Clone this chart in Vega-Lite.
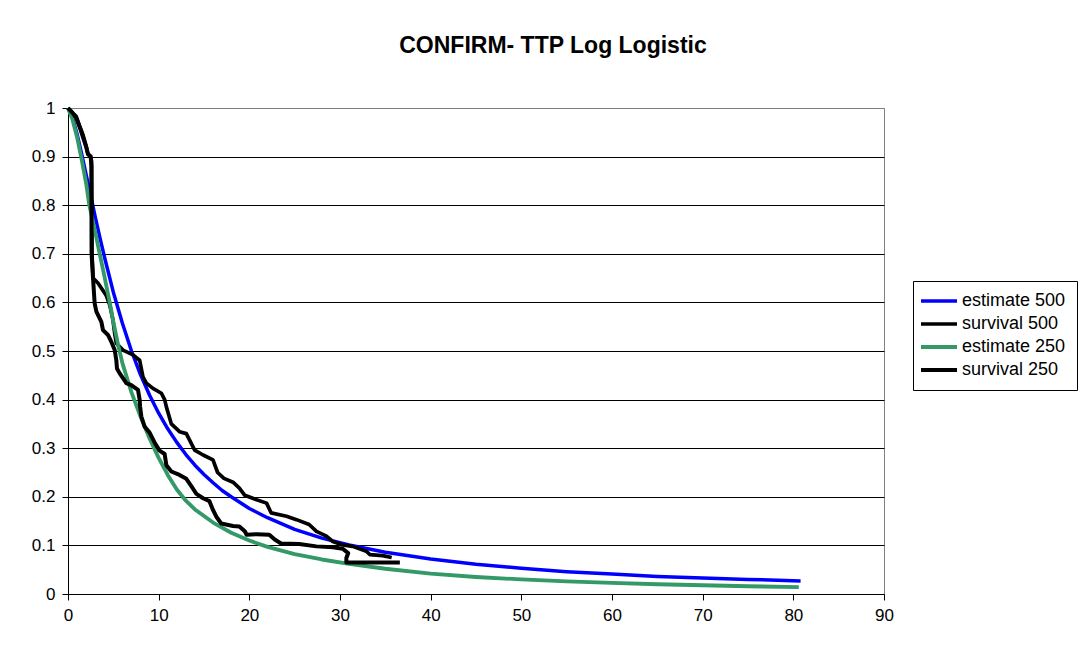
{
 "$schema": "https://vega.github.io/schema/vega-lite/v6.json",
 "autosize": {"type": "none"},
 "width": 816,
 "height": 486,
 "padding": {"left": 68, "top": 108, "right": 208, "bottom": 59},
 "background": "white",
 "title": {"text": "CONFIRM- TTP Log Logistic", "font": "Liberation Sans", "fontSize": 23, "fontWeight": "bold", "color": "black", "anchor": "middle", "dx": 77, "offset": 41},
 "config": {"view": {"stroke": "#808080", "strokeWidth": 1}, "font": "Liberation Sans"},
 "data": {"values": [
  {"s":"estimate 500","t":0,"v":1},{"s":"estimate 500","t":0.5,"v":0.98},{"s":"estimate 500","t":1,"v":0.946},{"s":"estimate 500","t":1.5,"v":0.906},{"s":"estimate 500","t":2,"v":0.863},{"s":"estimate 500","t":2.5,"v":0.82},{"s":"estimate 500","t":3,"v":0.776},{"s":"estimate 500","t":3.5,"v":0.735},{"s":"estimate 500","t":4,"v":0.695},{"s":"estimate 500","t":5,"v":0.621},{"s":"estimate 500","t":6,"v":0.557},{"s":"estimate 500","t":7,"v":0.5},{"s":"estimate 500","t":8,"v":0.451},{"s":"estimate 500","t":9,"v":0.409},{"s":"estimate 500","t":10,"v":0.372},{"s":"estimate 500","t":11,"v":0.34},{"s":"estimate 500","t":12,"v":0.312},{"s":"estimate 500","t":13,"v":0.287},{"s":"estimate 500","t":14,"v":0.265},{"s":"estimate 500","t":15,"v":0.246},{"s":"estimate 500","t":16,"v":0.229},{"s":"estimate 500","t":17,"v":0.213},{"s":"estimate 500","t":18,"v":0.2},{"s":"estimate 500","t":20,"v":0.176},{"s":"estimate 500","t":22,"v":0.157},{"s":"estimate 500","t":25,"v":0.133},{"s":"estimate 500","t":28,"v":0.115},{"s":"estimate 500","t":31,"v":0.101},{"s":"estimate 500","t":35,"v":0.086},{"s":"estimate 500","t":40,"v":0.072},{"s":"estimate 500","t":45,"v":0.061},{"s":"estimate 500","t":50,"v":0.053},{"s":"estimate 500","t":55,"v":0.046},{"s":"estimate 500","t":60,"v":0.041},{"s":"estimate 500","t":65,"v":0.036},{"s":"estimate 500","t":70,"v":0.033},{"s":"estimate 500","t":75,"v":0.03},{"s":"estimate 500","t":80.8,"v":0.027},
  {"s":"survival 500","t":0,"v":1},{"s":"survival 500","t":0.5,"v":0.99},{"s":"survival 500","t":0.9,"v":0.983},{"s":"survival 500","t":1.3,"v":0.962},{"s":"survival 500","t":1.65,"v":0.945},{"s":"survival 500","t":2,"v":0.922},{"s":"survival 500","t":2.2,"v":0.906},{"s":"survival 500","t":2.5,"v":0.9},{"s":"survival 500","t":2.6,"v":0.89},{"s":"survival 500","t":2.65,"v":0.7},{"s":"survival 500","t":2.76,"v":0.65},{"s":"survival 500","t":3.3,"v":0.64},{"s":"survival 500","t":4.2,"v":0.615},{"s":"survival 500","t":4.6,"v":0.595},{"s":"survival 500","t":4.96,"v":0.564},{"s":"survival 500","t":5.15,"v":0.536},{"s":"survival 500","t":5.33,"v":0.516},{"s":"survival 500","t":6.06,"v":0.502},{"s":"survival 500","t":7.17,"v":0.492},{"s":"survival 500","t":7.9,"v":0.481},{"s":"survival 500","t":8.27,"v":0.447},{"s":"survival 500","t":8.64,"v":0.434},{"s":"survival 500","t":9.37,"v":0.423},{"s":"survival 500","t":10.3,"v":0.413},{"s":"survival 500","t":10.66,"v":0.4},{"s":"survival 500","t":10.85,"v":0.385},{"s":"survival 500","t":11.4,"v":0.35},{"s":"survival 500","t":12.3,"v":0.334},{"s":"survival 500","t":13.05,"v":0.33},{"s":"survival 500","t":13.4,"v":0.317},{"s":"survival 500","t":13.97,"v":0.296},{"s":"survival 500","t":14.9,"v":0.286},{"s":"survival 500","t":15.99,"v":0.276},{"s":"survival 500","t":16.5,"v":0.25},{"s":"survival 500","t":17.2,"v":0.238},{"s":"survival 500","t":18.2,"v":0.23},{"s":"survival 500","t":18.9,"v":0.218},{"s":"survival 500","t":19.5,"v":0.203},{"s":"survival 500","t":20.8,"v":0.194},{"s":"survival 500","t":21.9,"v":0.187},{"s":"survival 500","t":22.4,"v":0.167},{"s":"survival 500","t":24.1,"v":0.16},{"s":"survival 500","t":25.2,"v":0.153},{"s":"survival 500","t":26.6,"v":0.143},{"s":"survival 500","t":27.4,"v":0.129},{"s":"survival 500","t":28.5,"v":0.119},{"s":"survival 500","t":29.2,"v":0.108},{"s":"survival 500","t":30.3,"v":0.101},{"s":"survival 500","t":31.4,"v":0.098},{"s":"survival 500","t":32.9,"v":0.088},{"s":"survival 500","t":33.3,"v":0.081},{"s":"survival 500","t":34.7,"v":0.079},{"s":"survival 500","t":35.7,"v":0.075},
  {"s":"estimate 250","t":0,"v":1},{"s":"estimate 250","t":0.5,"v":0.976},{"s":"estimate 250","t":1,"v":0.94},{"s":"estimate 250","t":1.5,"v":0.895},{"s":"estimate 250","t":2,"v":0.845},{"s":"estimate 250","t":2.35,"v":0.8},{"s":"estimate 250","t":3,"v":0.745},{"s":"estimate 250","t":3.5,"v":0.7},{"s":"estimate 250","t":4,"v":0.655},{"s":"estimate 250","t":4.6,"v":0.6},{"s":"estimate 250","t":5,"v":0.56},{"s":"estimate 250","t":5.5,"v":0.515},{"s":"estimate 250","t":6,"v":0.475},{"s":"estimate 250","t":7,"v":0.415},{"s":"estimate 250","t":8,"v":0.365},{"s":"estimate 250","t":9,"v":0.32},{"s":"estimate 250","t":10,"v":0.28},{"s":"estimate 250","t":11,"v":0.245},{"s":"estimate 250","t":12,"v":0.215},{"s":"estimate 250","t":13,"v":0.192},{"s":"estimate 250","t":14,"v":0.174},{"s":"estimate 250","t":16,"v":0.147},{"s":"estimate 250","t":18,"v":0.126},{"s":"estimate 250","t":20,"v":0.11},{"s":"estimate 250","t":22,"v":0.097},{"s":"estimate 250","t":25,"v":0.082},{"s":"estimate 250","t":28,"v":0.071},{"s":"estimate 250","t":31,"v":0.062},{"s":"estimate 250","t":35,"v":0.052},{"s":"estimate 250","t":40,"v":0.042},{"s":"estimate 250","t":45,"v":0.035},{"s":"estimate 250","t":50,"v":0.03},{"s":"estimate 250","t":55,"v":0.026},{"s":"estimate 250","t":60,"v":0.023},{"s":"estimate 250","t":65,"v":0.02},{"s":"estimate 250","t":70,"v":0.018},{"s":"estimate 250","t":75,"v":0.016},{"s":"estimate 250","t":80.6,"v":0.014},
  {"s":"survival 250","t":0,"v":1},{"s":"survival 250","t":0.5,"v":0.99},{"s":"survival 250","t":0.9,"v":0.98},{"s":"survival 250","t":1.3,"v":0.96},{"s":"survival 250","t":1.65,"v":0.94},{"s":"survival 250","t":2,"v":0.92},{"s":"survival 250","t":2.2,"v":0.905},{"s":"survival 250","t":2.5,"v":0.9},{"s":"survival 250","t":2.58,"v":0.88},{"s":"survival 250","t":2.6,"v":0.7},{"s":"survival 250","t":2.76,"v":0.65},{"s":"survival 250","t":2.94,"v":0.598},{"s":"survival 250","t":3.13,"v":0.581},{"s":"survival 250","t":3.68,"v":0.56},{"s":"survival 250","t":3.86,"v":0.543},{"s":"survival 250","t":4.41,"v":0.533},{"s":"survival 250","t":4.78,"v":0.519},{"s":"survival 250","t":5.15,"v":0.502},{"s":"survival 250","t":5.33,"v":0.481},{"s":"survival 250","t":5.4,"v":0.464},{"s":"survival 250","t":5.7,"v":0.454},{"s":"survival 250","t":6.06,"v":0.444},{"s":"survival 250","t":6.43,"v":0.434},{"s":"survival 250","t":6.98,"v":0.43},{"s":"survival 250","t":7.72,"v":0.42},{"s":"survival 250","t":7.9,"v":0.4},{"s":"survival 250","t":7.95,"v":0.386},{"s":"survival 250","t":8.09,"v":0.365},{"s":"survival 250","t":8.46,"v":0.344},{"s":"survival 250","t":9,"v":0.332},{"s":"survival 250","t":9.6,"v":0.31},{"s":"survival 250","t":10.1,"v":0.295},{"s":"survival 250","t":10.66,"v":0.288},{"s":"survival 250","t":10.85,"v":0.265},{"s":"survival 250","t":11.4,"v":0.252},{"s":"survival 250","t":12.3,"v":0.245},{"s":"survival 250","t":13.05,"v":0.237},{"s":"survival 250","t":13.6,"v":0.222},{"s":"survival 250","t":14.16,"v":0.206},{"s":"survival 250","t":14.9,"v":0.197},{"s":"survival 250","t":15.6,"v":0.191},{"s":"survival 250","t":15.99,"v":0.173},{"s":"survival 250","t":16.36,"v":0.159},{"s":"survival 250","t":16.9,"v":0.145},{"s":"survival 250","t":18.2,"v":0.14},{"s":"survival 250","t":18.9,"v":0.139},{"s":"survival 250","t":19.5,"v":0.129},{"s":"survival 250","t":19.7,"v":0.122},{"s":"survival 250","t":20.8,"v":0.123},{"s":"survival 250","t":22.2,"v":0.122},{"s":"survival 250","t":22.8,"v":0.112},{"s":"survival 250","t":23.5,"v":0.104},{"s":"survival 250","t":25.5,"v":0.103},{"s":"survival 250","t":27.4,"v":0.098},{"s":"survival 250","t":29.2,"v":0.096},{"s":"survival 250","t":30.3,"v":0.093},{"s":"survival 250","t":30.9,"v":0.084},{"s":"survival 250","t":30.7,"v":0.074},{"s":"survival 250","t":30.7,"v":0.065},{"s":"survival 250","t":36.6,"v":0.065}
 ]},
 "mark": {"type": "line", "strokeJoin": "round", "clip": false},
 "encoding": {
  "x": {"field": "t", "type": "quantitative", "scale": {"domain": [0, 90], "nice": false, "zero": false},
        "axis": {"values": [0,10,20,30,40,50,60,70,80,90], "title": null, "grid": false, "domainColor": "black", "tickColor": "black", "tickSize": 6, "labelFontSize": 17, "labelColor": "black", "labelPadding": 7, "labelFont": "Liberation Sans", "labelFlush": false}},
  "y": {"field": "v", "type": "quantitative", "scale": {"domain": [0, 1], "nice": false},
        "axis": {"values": [0,0.1,0.2,0.3,0.4,0.5,0.6,0.7,0.8,0.9,1], "format": "~g", "title": null, "grid": true,
                 "gridColor": {"condition": {"test": "datum.value >= 1", "value": "#808080"}, "value": "black"}, "gridOpacity": 1, "gridWidth": 1,
                 "domainColor": "black", "tickColor": "black", "tickSize": 6, "labelPadding": 7, "labelFontSize": 17, "labelColor": "black", "labelFont": "Liberation Sans", "labelFlush": false}},
  "color": {"field": "s", "type": "nominal",
            "scale": {"domain": ["estimate 500", "survival 500", "estimate 250", "survival 250"], "range": ["#0000FF", "#000000", "#339966", "#000000"]},
            "legend": {"title": null, "orient": "none", "legendX": 845, "legendY": 173, "direction": "vertical", "strokeColor": "black", "fillColor": "white", "padding": 11, "labelFontSize": 18, "labelFont": "Liberation Sans", "labelColor": "black", "symbolType": "M-3,0H3", "symbolSize": 144, "symbolStrokeWidth": 4, "symbolOffset": 6, "rowPadding": 5, "labelOffset": 14}},
  "strokeWidth": {"field": "s", "type": "nominal", "scale": {"domain": ["estimate 500", "survival 500", "estimate 250", "survival 250"], "range": [3.5, 4, 3.5, 4]}, "legend": null},
  "order": {"value": null}
 }
}
